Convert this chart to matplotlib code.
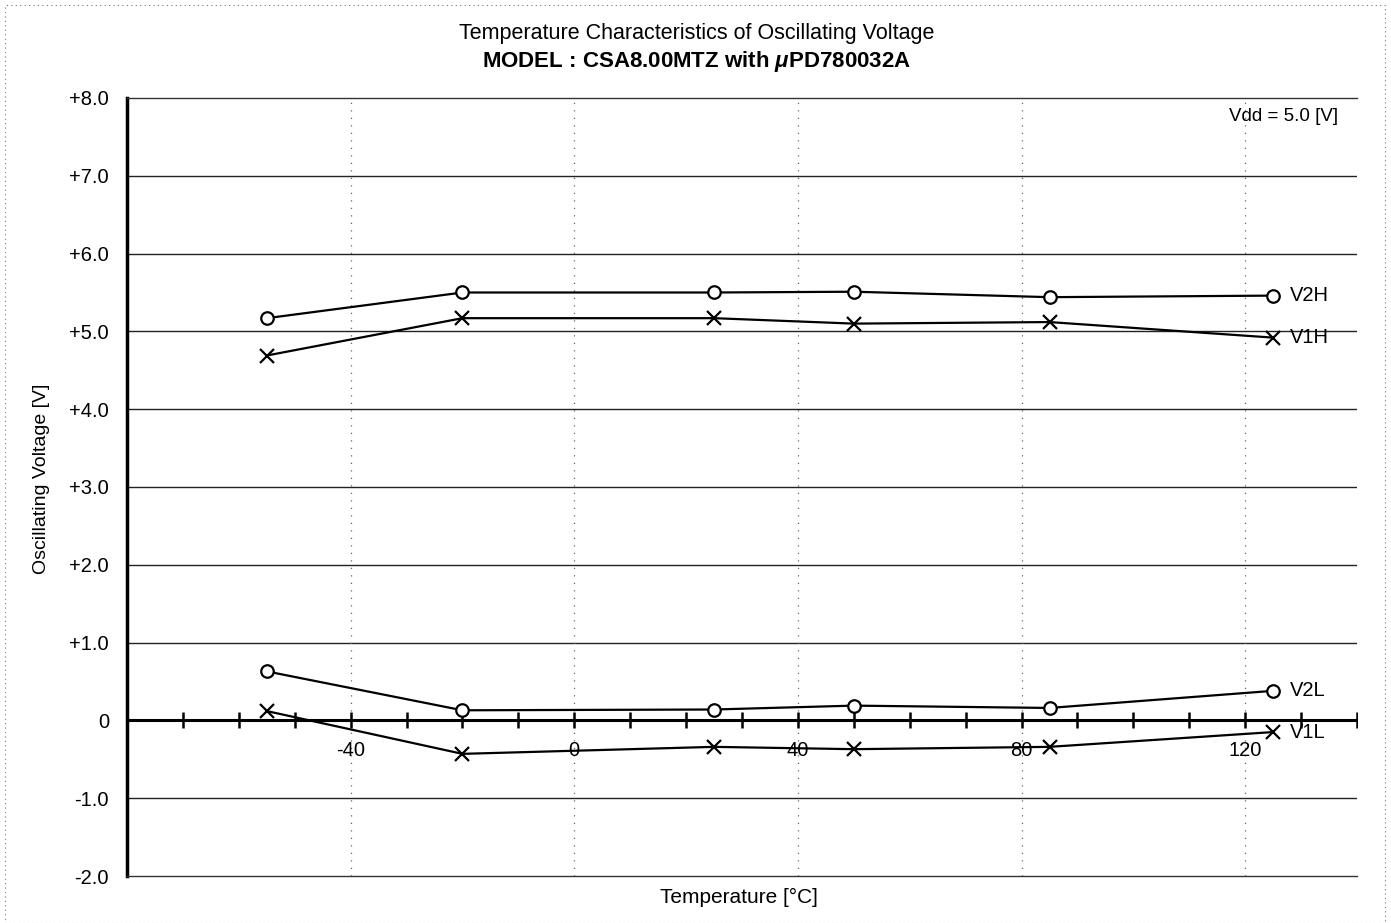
import numpy as np
import matplotlib
matplotlib.use('Agg')
import matplotlib.pyplot as plt
from matplotlib.patches import Rectangle
from matplotlib import transforms

plt.rcParams['font.family'] = ['Liberation Sans', 'DejaVu Sans']
plt.rcParams['mathtext.fontset'] = 'custom'
plt.rcParams['mathtext.it'] = 'Liberation Sans:italic:bold'
plt.rcParams['mathtext.rm'] = 'Liberation Sans:bold'

# 温度 [°C]
temps = [-55, -20, 25, 50, 85, 125]

# 振荡电压 [V]
v2h = [5.17, 5.50, 5.50, 5.51, 5.44, 5.46]
v1h = [4.69, 5.17, 5.17, 5.10, 5.12, 4.92]
v2l = [0.63, 0.13, 0.14, 0.19, 0.16, 0.38]
v1l = [0.12, -0.43, -0.34, -0.37, -0.34, -0.15]

series_names = ['V2H', 'V1H', 'V2L', 'V1L']
series_markers = ['o', 'x', 'o', 'x']

y_ticks = [8, 7, 6, 5, 4, 3, 2, 1, 0, -1, -2]
y_tick_labels = ['+8.0', '+7.0', '+6.0', '+5.0', '+4.0', '+3.0', '+2.0', '+1.0', '0', '-1.0', '-2.0']
x_labels = [-40, 0, 40, 80, 120]
x_minor = list(range(-70, 141, 10))

fig = plt.figure(figsize=(13.91, 9.23), dpi=100)
ax = fig.add_axes([127 / 1391, 1 - 876 / 923, 1230 / 1391, 778 / 923])
ax.set_xlim(-80, 140)
ax.set_ylim(-2, 8)

# 网格线
for y in y_ticks[1:-1]:
    if y == 0:
        continue
    ax.axhline(y, color='#222222', lw=1.0, zorder=1)
for x in x_labels:
    ax.axvline(x, color='#666666', lw=0.9, ls=(0, (1, 5)), zorder=1)

# 零线及刻度
ax.axhline(0, color='black', lw=2.2, zorder=2)
ax.plot(x_minor, [0] * len(x_minor), ls='none', marker='|', ms=11, mew=1.8, color='black', zorder=2)
offset = transforms.offset_copy(ax.transData, fig=fig, x=0, y=-21, units='dots')
for x in x_labels:
    ax.text(x, 0, str(x), transform=offset, ha='center', va='top', fontsize=14.5)

# 数据曲线
for vals, name, mk in zip([v2h, v1h, v2l, v1l], series_names, series_markers):
    ax.plot(temps, vals, color='black', lw=1.6, marker=mk,
            ms=10 if mk == 'x' else 9, mew=1.6, mfc='white' if mk == 'o' else 'black', zorder=3)
    ax.annotate(name, (temps[-1], vals[-1]), xytext=(12, 0), textcoords='offset points',
                ha='left', va='center', fontsize=14.5)

# 坐标轴
ax.set_xticks([])
ax.set_yticks(y_ticks)
ax.set_yticklabels(y_tick_labels, fontsize=14.5)
ax.tick_params(axis='y', length=0, pad=13)
ax.spines['right'].set_visible(False)
ax.spines['left'].set_linewidth(2.5)
for s in ['top', 'bottom']:
    ax.spines[s].set_linestyle((0, (2, 1)))
    ax.spines[s].set_linewidth(1.0)
    ax.spines[s].set_color('#333333')

ax.text(0.985, 0.987, 'Vdd = 5.0 [V]', transform=ax.transAxes, ha='right', va='top', fontsize=13.5)

fig.text(42 / 1391, 1 - 479 / 923, 'Oscillating Voltage [V]', rotation=90, ha='center', va='center', fontsize=14)
fig.text(739 / 1391, 1 - 897 / 923, 'Temperature [°C]', ha='center', va='center', fontsize=15)

# 标题
fig.text(697 / 1391, 1 - 33 / 923, 'Temperature Characteristics of Oscillating Voltage',
         ha='center', va='center', fontsize=15.5)
fig.text(697 / 1391, 1 - 62 / 923, r'MODEL : CSA8.00MTZ with $\mu$PD780032A',
         ha='center', va='center', fontsize=16, fontweight='bold')

# 扫描页面边框
fig.patches.append(Rectangle((5 / 1391, 0.0), 1380 / 1391, 1 - 5 / 923, transform=fig.transFigure,
                             fill=False, ls=(0, (1, 3)), lw=0.8, ec='#777777'))

fig.savefig('out.png', dpi=100)
